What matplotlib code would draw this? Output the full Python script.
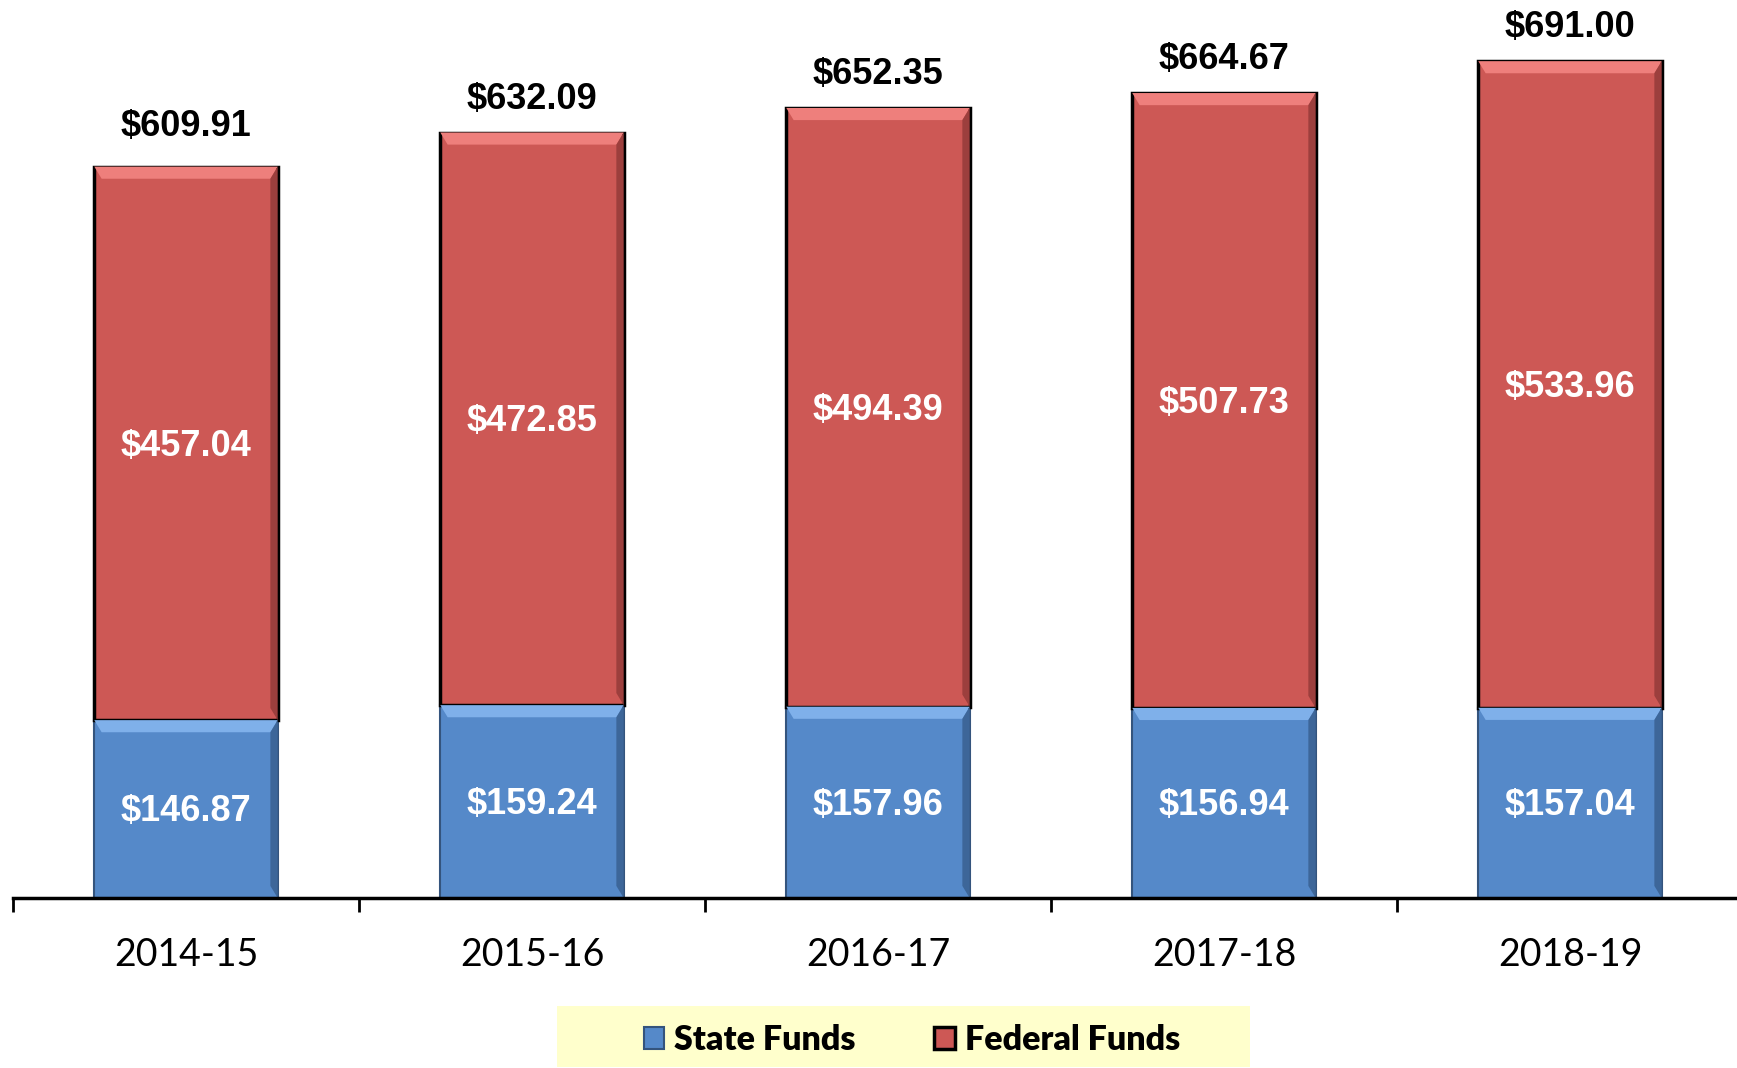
# Stacked bar chart - State vs Federal funds by year
import matplotlib.pyplot as plt
from matplotlib.patches import Rectangle, Polygon
import numpy as np

# data
years = ["2014-15", "2015-16", "2016-17", "2017-18", "2018-19"]
state_funds = [146.87, 159.24, 157.96, 156.94, 157.04]
federal_funds = [457.04, 472.85, 494.39, 507.73, 533.96]
totals = [609.91, 632.09, 652.35, 664.67, 691.00]

blue = "#5589C9"
red = "#CD5855"

fig = plt.figure(figsize=(17.37, 10.68), dpi=100)
ax = fig.add_axes([13 / 1737, 170 / 1068, 1730 / 1737, 898 / 1068])

x = np.arange(len(years))
width = 0.53

state_bars = ax.bar(x, state_funds, width, color=blue,
                    edgecolor="#34547d", linewidth=1.5, label="State Funds")
fed_bars = ax.bar(x, federal_funds, width, bottom=state_funds, color=red,
                  edgecolor="black", linewidth=2.5, label="Federal Funds")


# simple bevel look: light strip on top, darker strip on right side
def bevel(bars, light, dark):
    for b in bars:
        x0, y0 = b.get_x(), b.get_y()
        w, h = b.get_width(), b.get_height()
        dx, dy = w * 0.04, 10
        ax.add_patch(Polygon([(x0, y0 + h), (x0 + w, y0 + h),
                              (x0 + w - dx, y0 + h - dy), (x0 + dx, y0 + h - dy)],
                             closed=True, color=light, lw=0, zorder=2.5))
        ax.add_patch(Polygon([(x0 + w, y0), (x0 + w, y0 + h),
                              (x0 + w - dx, y0 + h - dy), (x0 + w - dx, y0 + dy)],
                             closed=True, color=dark, lw=0, zorder=2.5))


bevel(state_bars, "#7fb0ea", "#3d6699")
bevel(fed_bars, "#ee7f7c", "#9c3f3d")

# value labels
lab_font = dict(family="Liberation Sans", fontweight="bold", fontsize=26)
for i in range(len(years)):
    ax.annotate(f"${state_funds[i]:.2f}", (x[i], state_funds[i] / 2),
                xytext=(0, -2), textcoords="offset points",
                ha="center", va="center", color="white", zorder=4, **lab_font)
    ax.annotate(f"${federal_funds[i]:.2f}",
                (x[i], state_funds[i] + federal_funds[i] / 2),
                xytext=(0, -2), textcoords="offset points",
                ha="center", va="center", color="white", zorder=4, **lab_font)
    ax.annotate(f"${totals[i]:.2f}", (x[i], totals[i]),
                xytext=(0, 24), textcoords="offset points",
                ha="center", va="center", color="black", **lab_font)

# axes styling
ax.set_xlim(-0.5, len(years) - 0.5)
ax.set_ylim(0, 741.5)
for s in ["top", "right", "left"]:
    ax.spines[s].set_visible(False)
ax.spines["bottom"].set_linewidth(2.5)
ax.set_yticks([])
ax.set_xticks(np.arange(-0.5, len(years)), minor=False)
ax.set_xticklabels([])
ax.tick_params(axis="x", which="major", length=10, width=2, direction="out")
ax.set_xticks(x, minor=True)
ax.set_xticklabels(years, minor=True, fontsize=27, family="Lato")
ax.tick_params(axis="x", which="minor", length=0, pad=28)

# legend with pale yellow background
fig.patches.append(Rectangle((557 / 1737, 1 / 1068), 693 / 1737, 61 / 1068,
                             transform=fig.transFigure, facecolor="#FFFFCC",
                             edgecolor="none", zorder=0))
fig.legend(handles=[state_bars, fed_bars], loc="center",
           bbox_to_anchor=(0.525, 0.026), ncol=2, frameon=False,
           prop=dict(family="Lato", weight="heavy", size=24.5),
           handlelength=0.6, handleheight=0.6, handletextpad=0.3,
           columnspacing=2.3)

fig.savefig("out.png", dpi=100)
